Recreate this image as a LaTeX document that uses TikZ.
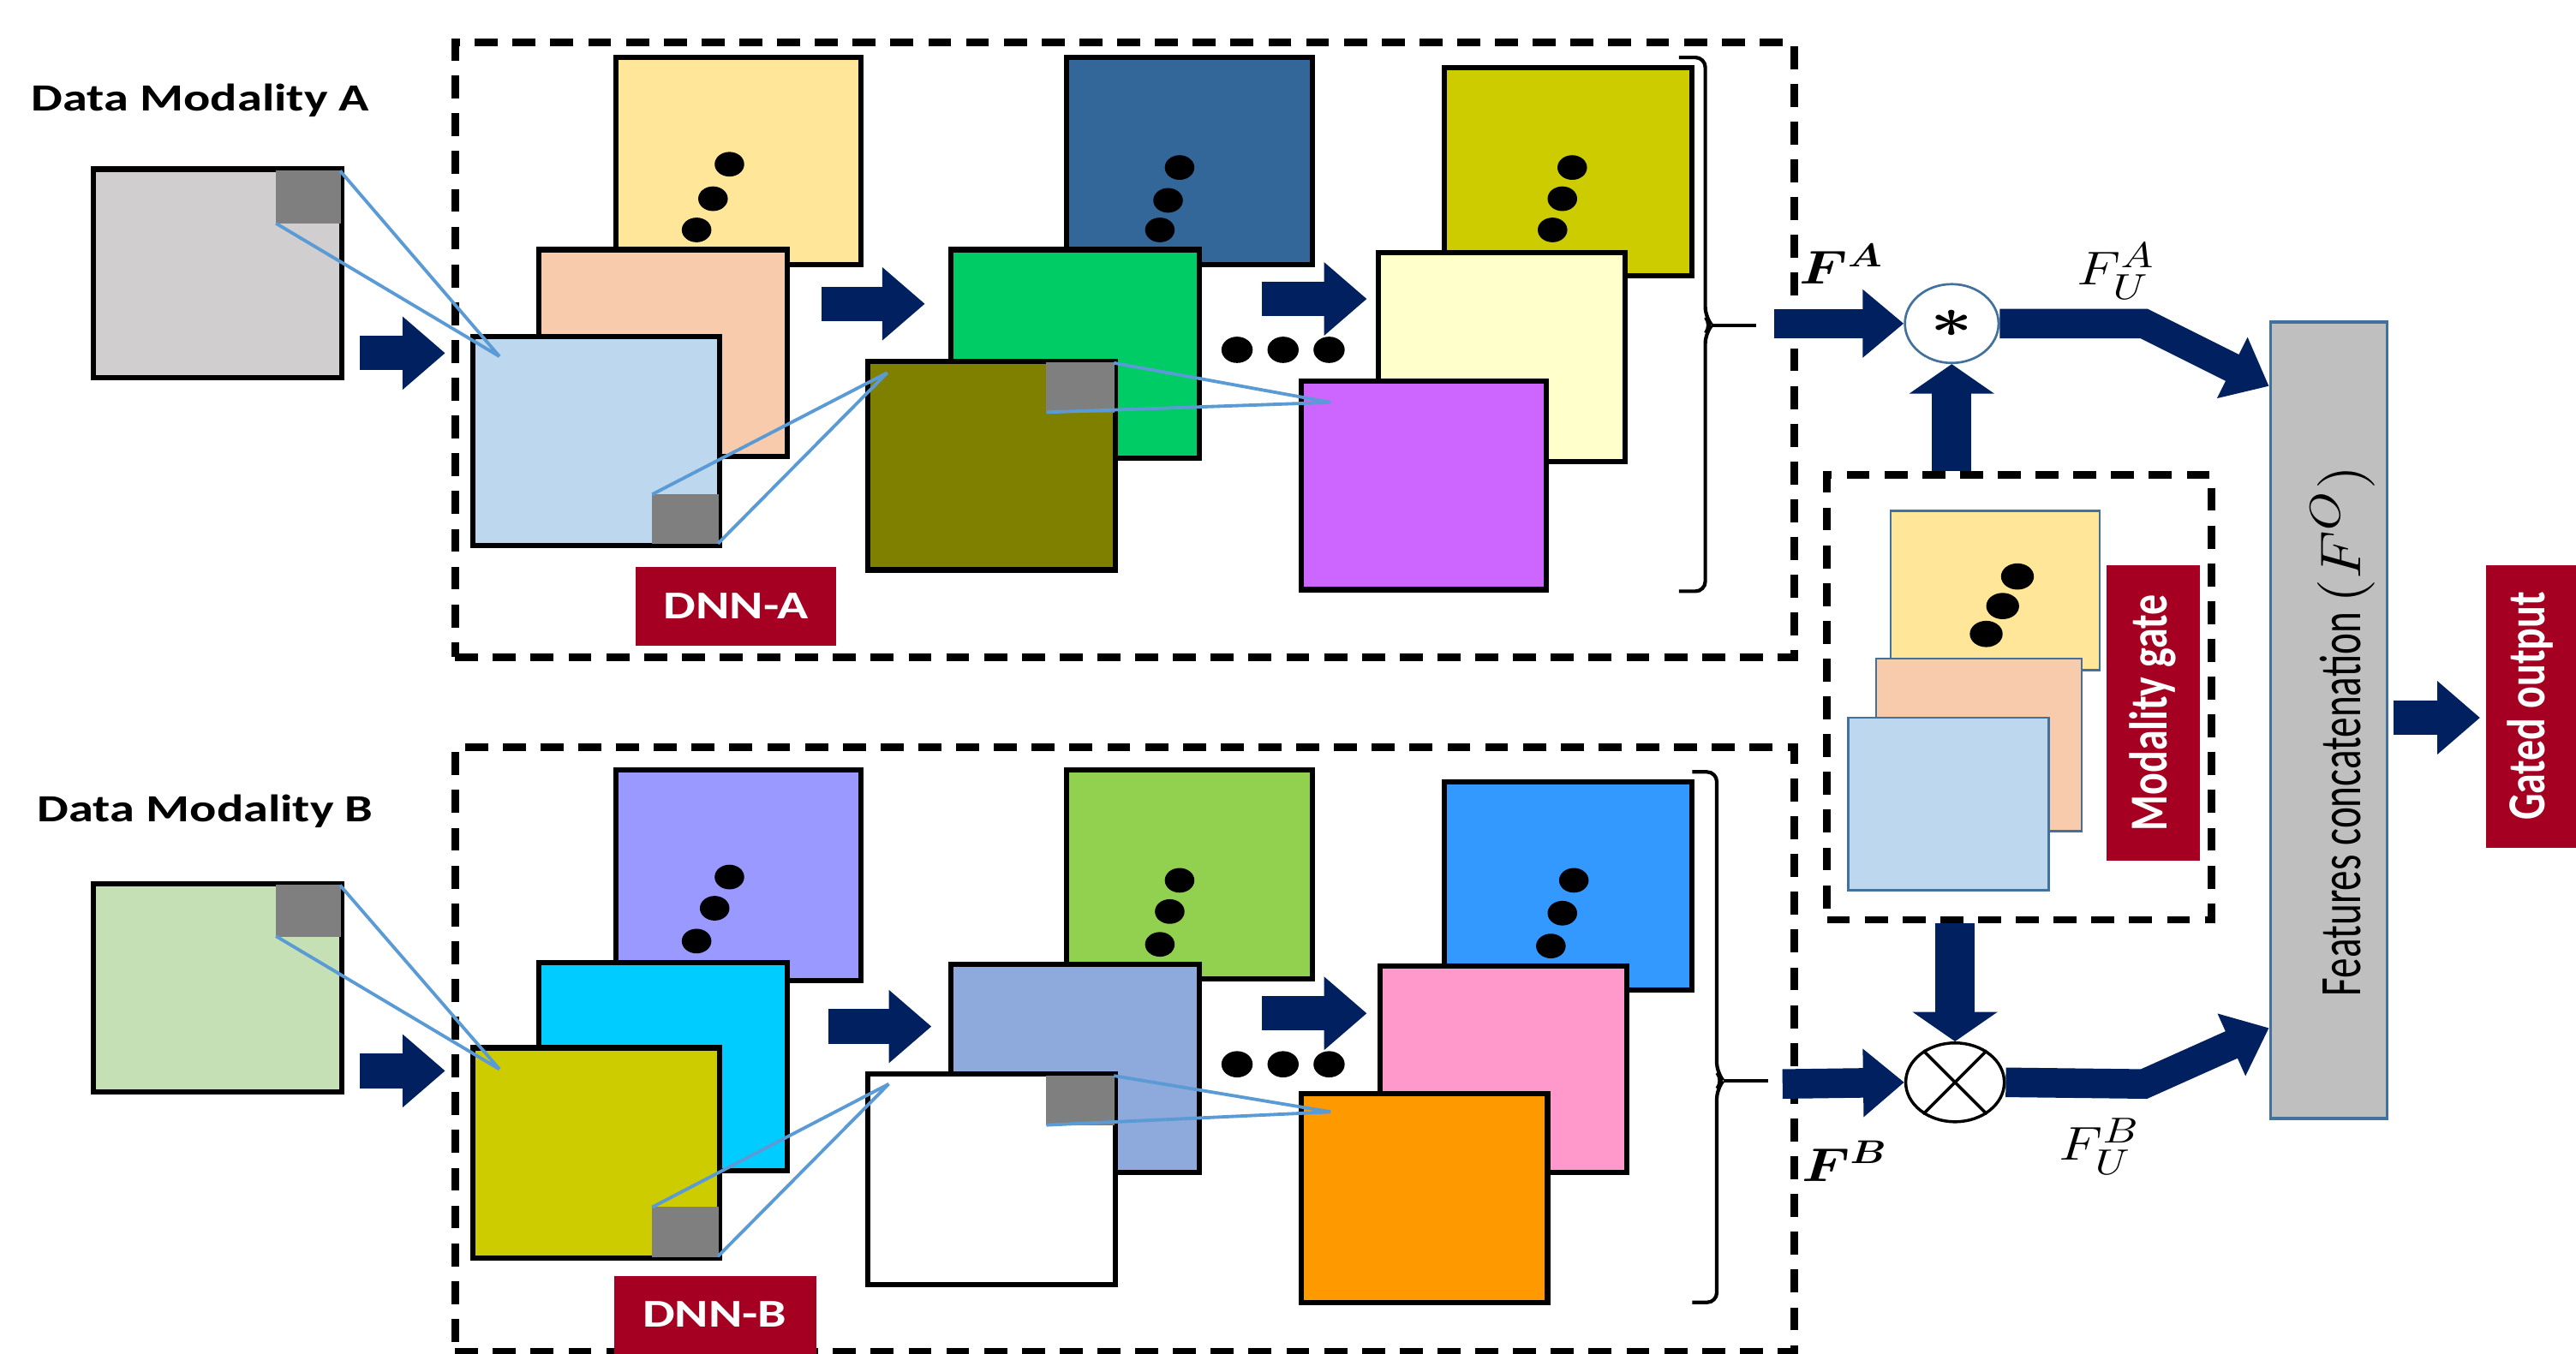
\documentclass[tikz,border=0pt]{standalone}
\usepackage{fontspec}
\setmainfont{Carlito}
\usepackage{amsmath}
\usepackage{graphicx}
\usetikzlibrary{arrows.meta,calc,shapes.geometric,fit}
\definecolor{navy}{HTML}{002060}
\definecolor{dred}{HTML}{A50021}
\definecolor{lnblue}{HTML}{5B9BD5}
\definecolor{sqgray}{HTML}{7F7F7F}
\definecolor{bordblue}{HTML}{41719C}
\definecolor{cInA}{HTML}{D0CECE}
\definecolor{cYel}{HTML}{FFE699}
\definecolor{cPeach}{HTML}{F8CBAD}
\definecolor{cLBlue}{HTML}{BDD7EE}
\definecolor{cSteel}{HTML}{336699}
\definecolor{cGreen}{HTML}{00CC66}
\definecolor{cOlive}{HTML}{808000}
\definecolor{cYOl}{HTML}{CCCC00}
\definecolor{cCream}{HTML}{FFFFCC}
\definecolor{cPurp}{HTML}{CC66FF}
\definecolor{cInB}{HTML}{C5E0B4}
\definecolor{cLav}{HTML}{9999FF}
\definecolor{cCyan}{HTML}{00CCFF}
\definecolor{cLGreen}{HTML}{92D050}
\definecolor{cBGray}{HTML}{8EA9DB}
\definecolor{cBlue}{HTML}{3399FF}
\definecolor{cPink}{HTML}{FF99CC}
\definecolor{cOrange}{HTML}{FF9900}
\definecolor{cConcat}{HTML}{BFBFBF}
\newcommand{\hstr}[1]{\scalebox{1.3}[1]{#1}}
\newcommand{\vstr}[1]{\scalebox{1}[1.3]{#1}}
\tikzset{
  fmap/.style={draw=black, line width=1.6pt, inner sep=0pt, outer sep=0pt},
  gsq/.style={fill=sqgray, draw=sqgray, line width=0.3pt, inner sep=0pt, outer sep=0pt},
  dashbox/.style={draw=black, line width=2.3pt, dash pattern=on 7pt off 4.5pt, inner sep=0pt},
  rfline/.style={draw=lnblue, line width=1pt},
  navyarr/.style={draw=navy, line width=10.5pt, line join=miter, -{Triangle[length=13pt,width=21.5pt]}},
  slimarr/.style={draw=navy, line width=9pt, line join=miter, -{Triangle[length=12.5pt,width=20pt]}},
  vertarr/.style={draw=navy, line width=12pt, -{Triangle[length=9pt,width=25.5pt]}},
  redlab/.style={fill=dred, inner sep=0pt},
  redtxt/.style={text=white, font=\bfseries\fontsize{12}{14}\selectfont},
  gbox/.style={draw=bordblue, line width=0.6pt, inner sep=0pt},
  brk/.style={draw=black, line width=1.1pt, rounded corners=3},
  bigdot/.style={fill=black},
  mlab/.style={inner sep=0pt}
}
\begin{document}
\begin{tikzpicture}[x=0.5pt,y=-0.5pt]
\useasboundingbox (0,0) rectangle (1568,824);

% ================= Row A =================
\node[font=\bfseries\fontsize{11.7}{13}\selectfont] (tA) at (122,61) {\hstr{Data Modality A}};
\node[fmap, fill=cInA, fit={(57,103)(208,230)}] (inA) {};
\node[gsq, fit={(168,104)(207,136)}] (inAsq) {};

\node[dashbox, fit={(277,26)(1092,400)}] (dnnAbox) {};

% stack A1
\node[fmap, fill=cYel, fit={(375,35)(524,161)}] (a1c) {};
\fill[bigdot] (444,100) ellipse [x radius=9, y radius=7.5];
\fill[bigdot] (434,121) ellipse [x radius=9, y radius=7.5];
\fill[bigdot] (424,140) ellipse [x radius=9, y radius=7.5];
\node[fmap, fill=cPeach, fit={(328,152)(479,278)}] (a1b) {};
\node[fmap, fill=cLBlue, fit={(288,205)(438,332)}] (a1a) {};
\node[gsq, fit={(397,301)(437,331)}] (a1sq) {};
\node[redlab, fit={(387,345)(509,393)}] (dnnA) {};
\node[redtxt] at (dnnA) {\hstr{DNN-A}};

% stack A2
\node[fmap, fill=cSteel, fit={(649,35)(799,161)}] (a2c) {};
\fill[bigdot] (718,102) ellipse [x radius=9, y radius=7.5];
\fill[bigdot] (711,122) ellipse [x radius=9, y radius=7.5];
\fill[bigdot] (706,140) ellipse [x radius=9, y radius=7.5];
\node[fmap, fill=cGreen, fit={(579,152)(730,279)}] (a2b) {};
\node[fmap, fill=cOlive, fit={(528,220)(679,347)}] (a2a) {};
\node[gsq, fit={(637,221)(678,251)}] (a2sq) {};

% stack A3
\node[fmap, fill=cYOl, fit={(879,41)(1030,168)}] (a3c) {};
\fill[bigdot] (957,102) ellipse [x radius=9, y radius=7.5];
\fill[bigdot] (951,121) ellipse [x radius=9, y radius=7.5];
\fill[bigdot] (945,140) ellipse [x radius=9, y radius=7.5];
\node[fmap, fill=cCream, fit={(839,154)(989,281)}] (a3b) {};
\node[fmap, fill=cPurp, fit={(792,232)(941,359)}] (a3a) {};

\fill[bigdot] (753,213) ellipse [x radius=9.5, y radius=8];
\fill[bigdot] (781,213) ellipse [x radius=9.5, y radius=8];
\fill[bigdot] (809,213) ellipse [x radius=9.5, y radius=8];

% bracket A
\draw[brk] (1022,35) -- (1038,35) -- (1038,193) -- (1042,198) -- (1038,203) -- (1038,360) -- (1022,360);
\coordinate (brA) at (1042,198);
\draw[line width=1.1pt] (brA) -- (1069,198);

% receptive field lines A
\coordinate (pA0) at (304,217);
\coordinate (pA1) at (540,227);
\coordinate (pA2) at (810,245);
\draw[rfline] (inAsq.north east) -- (pA0) (inAsq.south west) -- (pA0);
\draw[rfline] (a1sq.north west) -- (pA1) (a1sq.south east) -- (pA1);
\draw[rfline] (a2sq.north east) -- (pA2) (a2sq.south west) -- (pA2);

% arrows A
\coordinate (iA1) at (219,215); \coordinate (iA2) at (271,215);
\coordinate (sA1) at (500,185); \coordinate (sA2) at (563,185);
\coordinate (tA1) at (768,182); \coordinate (tA2) at (832,182);
\draw[navyarr] (iA1) -- (iA2);
\draw[navyarr] (sA1) -- (sA2);
\draw[navyarr] (tA1) -- (tA2);

% ================= Row B =================
\node[font=\bfseries\fontsize{11.7}{13}\selectfont] (tB) at (125,494) {\hstr{Data Modality B}};
\node[fmap, fill=cInB, fit={(57,538)(208,665)}] (inB) {};
\node[gsq, fit={(168,539)(207,570)}] (inBsq) {};

\node[dashbox, fit={(277,455)(1092,823)}] (dnnBbox) {};

% stack B1
\node[fmap, fill=cLav, fit={(375,469)(524,597)}] (b1c) {};
\fill[bigdot] (444,534) ellipse [x radius=9, y radius=7.5];
\fill[bigdot] (435,553) ellipse [x radius=9, y radius=7.5];
\fill[bigdot] (424,573) ellipse [x radius=9, y radius=7.5];
\node[fmap, fill=cCyan, fit={(328,586)(479,713)}] (b1b) {};
\node[fmap, fill=cYOl, fit={(288,638)(438,766)}] (b1a) {};
\node[gsq, fit={(397,735)(437,765)}] (b1sq) {};
\node[redlab, fit={(374,777)(497,830)}] (dnnB) {};
\node[redtxt] at (435,800) {\hstr{DNN-B}};

% stack B2
\node[fmap, fill=cLGreen, fit={(649,469)(799,596)}] (b2c) {};
\fill[bigdot] (718,536) ellipse [x radius=9, y radius=7.5];
\fill[bigdot] (712,555) ellipse [x radius=9, y radius=7.5];
\fill[bigdot] (706,575) ellipse [x radius=9, y radius=7.5];
\node[fmap, fill=cBGray, fit={(579,587)(730,714)}] (b2b) {};
\node[fmap, fill=white, fit={(528,654)(679,782)}] (b2a) {};
\node[gsq, fit={(637,655)(678,685)}] (b2sq) {};

% stack B3
\node[fmap, fill=cBlue, fit={(879,476)(1030,603)}] (b3c) {};
\fill[bigdot] (958,536) ellipse [x radius=9, y radius=7.5];
\fill[bigdot] (951,556) ellipse [x radius=9, y radius=7.5];
\fill[bigdot] (944,576) ellipse [x radius=9, y radius=7.5];
\node[fmap, fill=cPink, fit={(840,588)(990,714)}] (b3b) {};
\node[fmap, fill=cOrange, fit={(792,666)(942,793)}] (b3a) {};

\fill[bigdot] (753,648) ellipse [x radius=9.5, y radius=8];
\fill[bigdot] (781,648) ellipse [x radius=9.5, y radius=8];
\fill[bigdot] (809,648) ellipse [x radius=9.5, y radius=8];

% bracket B
\draw[brk] (1030,470) -- (1045,470) -- (1045,653) -- (1049,658) -- (1045,663) -- (1045,793) -- (1030,793);
\coordinate (brB) at (1049,658);
\draw[line width=1.1pt] (brB) -- (1076,658);

% receptive field lines B
\coordinate (pB0) at (304,651);
\coordinate (pB1) at (541,660);
\coordinate (pB2) at (810,677);
\draw[rfline] (inBsq.north east) -- (pB0) (inBsq.south west) -- (pB0);
\draw[rfline] (b1sq.north west) -- (pB1) (b1sq.south east) -- (pB1);
\draw[rfline] (b2sq.north east) -- (pB2) (b2sq.south west) -- (pB2);

% arrows B
\coordinate (iB1) at (219,652); \coordinate (iB2) at (271,652);
\coordinate (sB1) at (504,625); \coordinate (sB2) at (567,625);
\coordinate (tB1) at (768,617); \coordinate (tB2) at (832,617);
\draw[navyarr] (iB1) -- (iB2);
\draw[navyarr] (sB1) -- (sB2);
\draw[navyarr] (tB1) -- (tB2);

% ================= Fusion part =================
\node[dashbox, fit={(1112,289)(1346,560)}] (gate) {};
\node[gbox, fill=cYel, fit={(1151,311)(1278,408)}] (g3) {};
\fill[bigdot] (1228,351) ellipse [x radius=10, y radius=8];
\fill[bigdot] (1219,369) ellipse [x radius=10, y radius=8];
\fill[bigdot] (1209,386) ellipse [x radius=10, y radius=8];
\node[gbox, fill=cPeach, fit={(1142,401)(1267,506)}] (g2) {};
\node[gbox, fill=cLBlue, fit={(1125,437)(1247,542)}] (g1) {};
\node[redlab, fit={(1282,344)(1339,524)}] (mgate) {};
\node[redtxt, rotate=90, font=\bfseries\fontsize{12.5}{14}\selectfont] at (mgate) {\vstr{Modality gate}};

\node[ellipse, draw=bordblue, fill=white, line width=0.7pt, minimum width=28.5pt, minimum height=24pt, inner sep=0pt] (circA) at (1188,197) {};
\node at (circA) {\hstr{\fontsize{17}{17}\selectfont$\boldsymbol{\ast}$}};
\node[ellipse, draw=black, fill=white, line width=0.9pt, minimum width=30pt, minimum height=24pt, inner sep=0pt] (circB) at (1190,659) {};
\draw[line width=0.9pt] (circB.45) -- (circB.225) (circB.135) -- (circB.315);

\node[draw=bordblue, fill=cConcat, line width=0.9pt, fit={(1382,196)(1453,681)}, inner sep=0pt] (concat) {};
\node[rotate=90, font=\fontsize{12.3}{14}\selectfont] (concatT) at (1426,445) {\scalebox{1}[1.45]{Features concatenation \scalebox{1.6}[1]{$(F^{O})$}}};

\node[redlab, fit={(1513,344)(1572,516)}] (gated) {};
\node[redtxt, rotate=90, font=\bfseries\fontsize{12.5}{14}\selectfont] at (1540,430) {\vstr{Gated output}};

% labels
\node[mlab] (lFA) at (1121,161) {\scalebox{1.2}[1]{\fontsize{14.5}{16}\selectfont$\boldsymbol{F^{A}}$}};
\node[mlab] (lFUA) at (1288,165) {\scalebox{1.2}[1]{\fontsize{15}{16}\selectfont$F_U^{A}$}};
\node[mlab] (lFB) at (1123,707) {\scalebox{1.2}[1]{\fontsize{14.5}{16}\selectfont$\boldsymbol{F^{B}}$}};
\node[mlab] (lFUB) at (1278,698) {\scalebox{1.2}[1]{\fontsize{15}{16}\selectfont$F_U^{B}$}};

% fusion arrows
\coordinate (FAs) at (1080,197);
\coordinate (FBs) at (1085,660);
\coordinate (kA) at (1305,197);
\coordinate (kB) at (1305,660);
\draw[slimarr] (FAs) -- (circA.west);
\draw[slimarr] (FBs) -- (circB.west);
\draw[slimarr] (circA.east) -- (kA) -- ($(concat.north west)+(0,40)$);
\draw[slimarr] (circB.east) -- (kB) -- ($(concat.south west)+(0,-56)$);
\draw[vertarr] (circA.south |- gate.north) -- (circA.south);
\draw[vertarr] (circB.north |- gate.south) -- (circB.north);
\draw[navyarr, shorten <=1.5pt, shorten >=1.5pt] (concat.east |- 0,437) -- (gated.west |- 0,437);
\end{tikzpicture}
\end{document}
